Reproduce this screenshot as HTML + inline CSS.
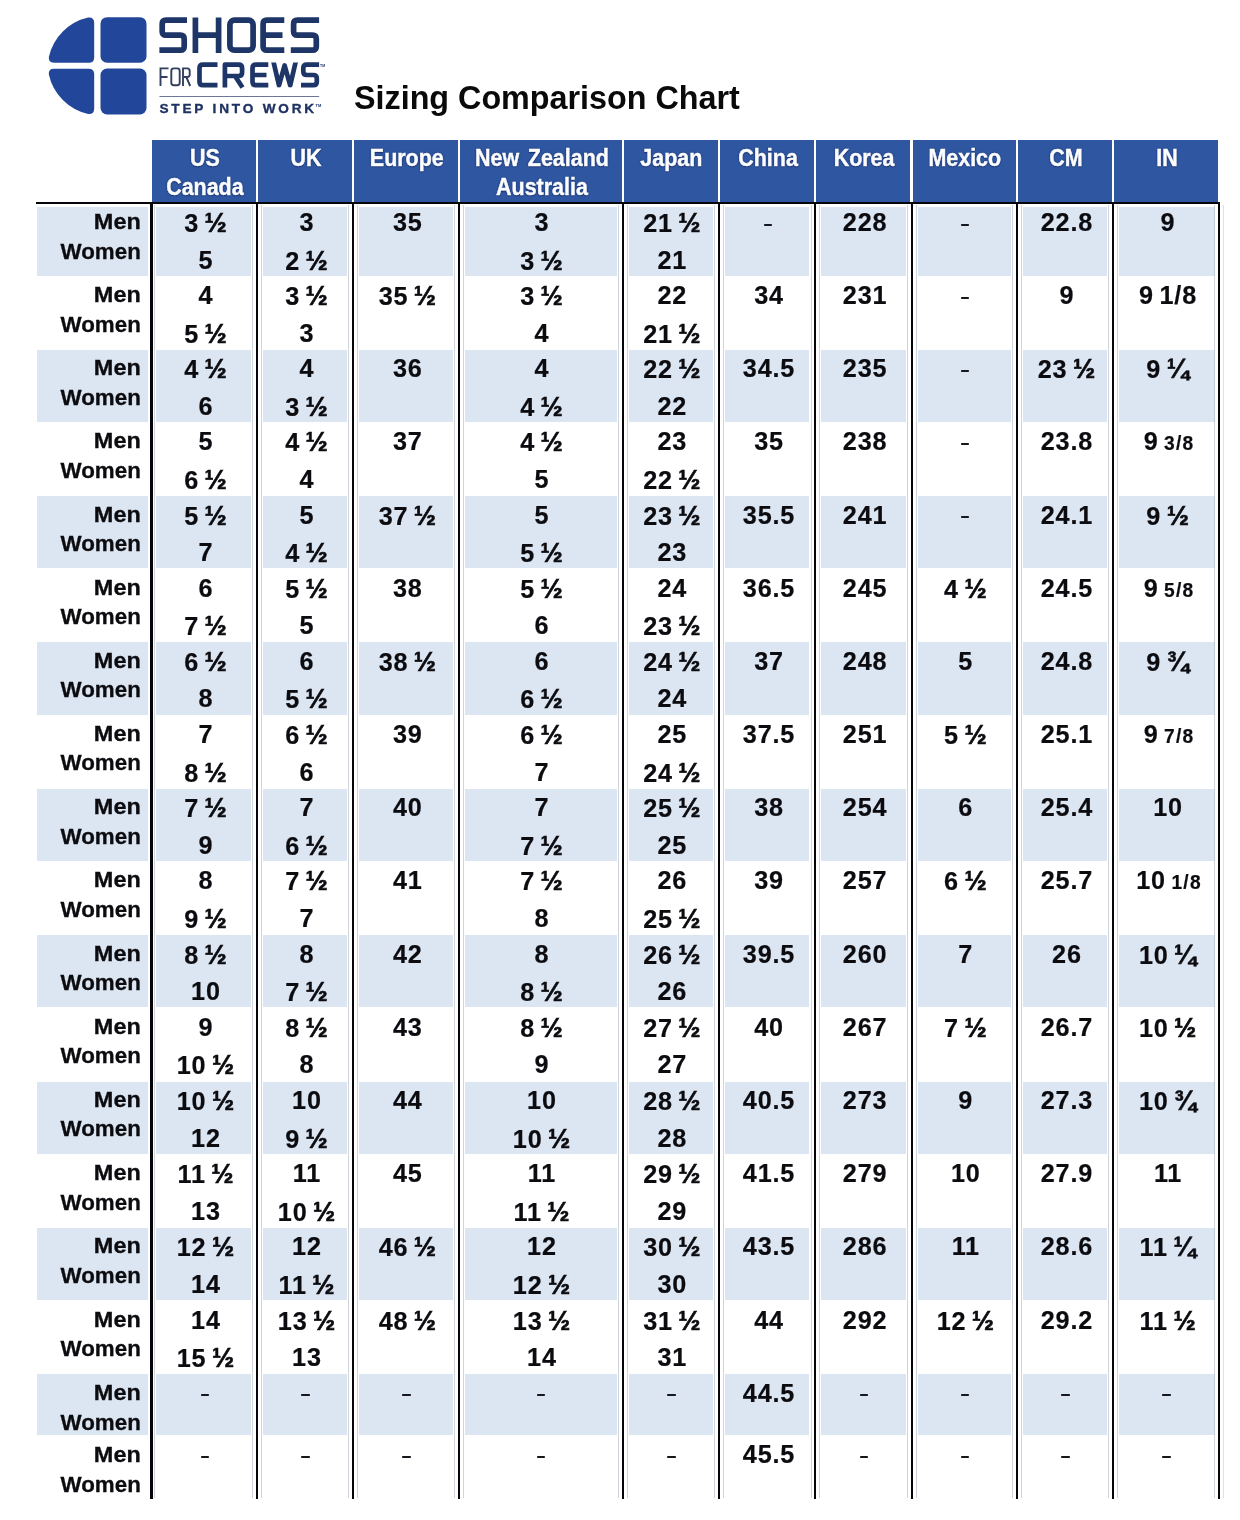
<!DOCTYPE html>
<html lang="en"><head><meta charset="utf-8"><title>Sizing Comparison Chart</title>
<style>
html,body{margin:0;padding:0;background:#fff}
body{width:1240px;height:1520px;position:relative;overflow:hidden;font-family:"Liberation Sans",sans-serif;font-weight:bold;color:#0c0c10}
.b{position:absolute;background:#dce6f2}
.vl{position:absolute;background:#05050a;width:2.2px}
.gl{position:absolute;background:#a9b2c0;width:1px;opacity:.55}
.h{position:absolute;background:#2f56a0;top:140.2px;height:61.7px}
.t{position:absolute;white-space:nowrap;line-height:1;text-align:center}
.v{word-spacing:-2.4px;margin-left:1.5px;letter-spacing:.85px;-webkit-text-stroke:.2px #0c0c10;font-size:26.0px;transform:scaleX(0.970);transform-origin:50% 50%}
.l{-webkit-text-stroke:.3px #0c0c10;font-size:22.8px;text-align:right;transform:scaleX(0.980);transform-origin:100% 50%;left:20px;width:120.8px}
.ht{margin-left:.8px;font-size:23.2px;color:#fbfdff;word-spacing:3px;-webkit-text-stroke:.45px #fbfdff;transform:scaleX(0.925);transform-origin:50% 50%;text-shadow:0 0 2px rgba(10,25,80,.9),0 1px 1px rgba(10,25,80,.6)}
.d{position:absolute;width:8.4px;height:2.4px;background:#16161c;border-radius:.8px}
.s{font-size:19.8px;letter-spacing:1.3px}
.m{transform:scaleX(1.03)}
.f{font-size:1.06em;-webkit-text-stroke:.55px #0c0c10}
#title{position:absolute;left:353.5px;top:81.8px;font-size:32.7px;line-height:1;white-space:nowrap;transform:scaleX(0.988);transform-origin:0 50%;color:#0a0a0a}
#w{position:absolute;left:0;top:0;width:1240px;height:1520px;will-change:transform;transform:translateZ(0)}
</style></head><body><div id="w">
<svg width="340" height="125" viewBox="0 0 340 125" style="position:absolute;left:0;top:0">
<defs><clipPath id="cw"><rect x="268" y="62.4" width="34" height="25.1"/></clipPath></defs>
<g fill="#22479a">
<path d="M48.9,56.8 A52,52 0 0 1 88.1,17.5 Q94.2,16.9 94.2,23 V57.2 Q94.2,62.7 88.7,62.7 H54 Q48,62.7 48.9,56.8 Z"/>
<rect x="100.5" y="17.2" width="46" height="45.5" rx="6.5"/>
<path d="M48.9,74.7 A52,52 0 0 0 88.1,114 Q94.2,114.6 94.2,108.5 V74.3 Q94.2,68.8 88.7,68.8 H54 Q48,68.8 48.9,74.7 Z"/>
<rect x="100.5" y="68.5" width="46" height="46" rx="6.5"/>
</g>
<g fill="none" stroke="#1e3568" stroke-width="5.7" stroke-linejoin="round">
<path d="M187,20.2 H166 Q162.2,20.2 162.2,24 V31.4 Q162.2,35.2 166,35.2 H180.4 Q184.2,35.2 184.2,39 V46.4 Q184.2,50.2 180.4,50.2 H159.4"/>
<path d="M195.4,17.4 V53 M218.6,17.4 V53 M195.4,35.2 H218.6"/>
<rect x="229.9" y="20.2" width="23.2" height="30" rx="4.5"/>
<path d="M284.3,20.2 H266.9 Q263.1,20.2 263.1,24 V46.4 Q263.1,50.2 266.9,50.2 H284.3 M263.1,35.2 H282.5"/>
<path d="M319.1,20.2 H297.4 Q293.6,20.2 293.6,24 V31.4 Q293.6,35.2 297.4,35.2 H312.5 Q316.3,35.2 316.3,39 V46.4 Q316.3,50.2 312.5,50.2 H290.8"/>
</g>
<g fill="none" stroke="#1e3568" stroke-width="4.7" stroke-linejoin="round">
<path d="M217.5,64.7 H203 Q199.5,64.7 199.5,68.2 V81.7 Q199.5,85.2 203,85.2 H217.5"/>
<path d="M224.9,87.5 V64.7 H238.6 Q242.1,64.7 242.1,68.2 V72.5 Q242.1,76 238.6,76 H224.9 M235,76 L242.5,87.5"/>
<path d="M268.3,64.7 H256 Q252.5,64.7 252.5,68.2 V81.7 Q252.5,85.2 256,85.2 H268.3 M252.5,75 H266.5"/>
<path d="M273.3,61 L279,85.4 L284.6,65.5 L290.2,85.4 L295.9,61" stroke-linejoin="round" clip-path="url(#cw)"/>
<path d="M319.1,64.7 H306.8 Q303.3,64.7 303.3,68.2 V71.5 Q303.3,75 306.8,75 H313.3 Q316.8,75 316.8,78.5 V81.7 Q316.8,85.2 313.3,85.2 H301"/>
</g>
<g fill="none" stroke="#333f5e" stroke-width="1.9">
<path d="M160.5,86 V68.4 H168.5 M160.5,77 H167.5"/>
<rect x="171.3" y="68.4" width="8.4" height="16.8" rx="2.5"/>
<path d="M183,86 V68.4 H187.2 Q189.7,68.4 189.7,71 V74.5 Q189.7,77 187.2,77 H183 M186.3,77 L190.2,86"/>
</g>
<rect x="159.4" y="96" width="159.7" height="1" fill="#6b7897"/>
<text x="159.4" y="113.2" font-family="Liberation Sans, sans-serif" font-weight="bold" font-size="13.6" fill="#1e3162" stroke="#1e3162" stroke-width=".35" textLength="154.8" lengthAdjust="spacing">STEP INTO WORK</text>
<text x="320" y="66.5" font-family="Liberation Sans, sans-serif" font-weight="bold" font-size="3.5" fill="#1f3772">TM</text>
<text x="315.5" y="107" font-family="Liberation Sans, sans-serif" font-weight="bold" font-size="4" fill="#1f3772">TM</text>
</svg>

<div id="title">Sizing Comparison Chart</div>
<div class="h" style="left:152.4px;width:103.8px"></div>
<div class="h" style="left:258.4px;width:93.8px"></div>
<div class="h" style="left:354.2px;width:103.5px"></div>
<div class="h" style="left:459.9px;width:161.8px"></div>
<div class="h" style="left:623.8px;width:94.5px"></div>
<div class="h" style="left:720.3px;width:94.0px"></div>
<div class="h" style="left:816.4px;width:94.1px"></div>
<div class="h" style="left:912.6px;width:103.5px"></div>
<div class="h" style="left:1018.2px;width:93.7px"></div>
<div class="h" style="left:1114.0px;width:103.5px"></div>
<div class="b" style="left:36.8px;top:206.5px;width:110.8px;height:69.0px"></div>
<div class="b" style="left:156.0px;top:206.5px;width:95.3px;height:69.0px"></div>
<div class="b" style="left:263.3px;top:206.5px;width:83.9px;height:69.0px"></div>
<div class="b" style="left:359.2px;top:206.5px;width:93.6px;height:69.0px"></div>
<div class="b" style="left:464.8px;top:206.5px;width:151.9px;height:69.0px"></div>
<div class="b" style="left:628.7px;top:206.5px;width:84.6px;height:69.0px"></div>
<div class="b" style="left:725.3px;top:206.5px;width:84.1px;height:69.0px"></div>
<div class="b" style="left:821.4px;top:206.5px;width:84.2px;height:69.0px"></div>
<div class="b" style="left:917.6px;top:206.5px;width:93.6px;height:69.0px"></div>
<div class="b" style="left:1023.2px;top:206.5px;width:83.8px;height:69.0px"></div>
<div class="b" style="left:1119.0px;top:206.5px;width:95.7px;height:69.0px"></div>
<div class="b" style="left:36.8px;top:349.7px;width:110.8px;height:72.2px"></div>
<div class="b" style="left:156.0px;top:349.7px;width:95.3px;height:72.2px"></div>
<div class="b" style="left:263.3px;top:349.7px;width:83.9px;height:72.2px"></div>
<div class="b" style="left:359.2px;top:349.7px;width:93.6px;height:72.2px"></div>
<div class="b" style="left:464.8px;top:349.7px;width:151.9px;height:72.2px"></div>
<div class="b" style="left:628.7px;top:349.7px;width:84.6px;height:72.2px"></div>
<div class="b" style="left:725.3px;top:349.7px;width:84.1px;height:72.2px"></div>
<div class="b" style="left:821.4px;top:349.7px;width:84.2px;height:72.2px"></div>
<div class="b" style="left:917.6px;top:349.7px;width:93.6px;height:72.2px"></div>
<div class="b" style="left:1023.2px;top:349.7px;width:83.8px;height:72.2px"></div>
<div class="b" style="left:1119.0px;top:349.7px;width:95.7px;height:72.2px"></div>
<div class="b" style="left:36.8px;top:496.1px;width:110.8px;height:72.2px"></div>
<div class="b" style="left:156.0px;top:496.1px;width:95.3px;height:72.2px"></div>
<div class="b" style="left:263.3px;top:496.1px;width:83.9px;height:72.2px"></div>
<div class="b" style="left:359.2px;top:496.1px;width:93.6px;height:72.2px"></div>
<div class="b" style="left:464.8px;top:496.1px;width:151.9px;height:72.2px"></div>
<div class="b" style="left:628.7px;top:496.1px;width:84.6px;height:72.2px"></div>
<div class="b" style="left:725.3px;top:496.1px;width:84.1px;height:72.2px"></div>
<div class="b" style="left:821.4px;top:496.1px;width:84.2px;height:72.2px"></div>
<div class="b" style="left:917.6px;top:496.1px;width:93.6px;height:72.2px"></div>
<div class="b" style="left:1023.2px;top:496.1px;width:83.8px;height:72.2px"></div>
<div class="b" style="left:1119.0px;top:496.1px;width:95.7px;height:72.2px"></div>
<div class="b" style="left:36.8px;top:642.4px;width:110.8px;height:72.2px"></div>
<div class="b" style="left:156.0px;top:642.4px;width:95.3px;height:72.2px"></div>
<div class="b" style="left:263.3px;top:642.4px;width:83.9px;height:72.2px"></div>
<div class="b" style="left:359.2px;top:642.4px;width:93.6px;height:72.2px"></div>
<div class="b" style="left:464.8px;top:642.4px;width:151.9px;height:72.2px"></div>
<div class="b" style="left:628.7px;top:642.4px;width:84.6px;height:72.2px"></div>
<div class="b" style="left:725.3px;top:642.4px;width:84.1px;height:72.2px"></div>
<div class="b" style="left:821.4px;top:642.4px;width:84.2px;height:72.2px"></div>
<div class="b" style="left:917.6px;top:642.4px;width:93.6px;height:72.2px"></div>
<div class="b" style="left:1023.2px;top:642.4px;width:83.8px;height:72.2px"></div>
<div class="b" style="left:1119.0px;top:642.4px;width:95.7px;height:72.2px"></div>
<div class="b" style="left:36.8px;top:788.8px;width:110.8px;height:72.2px"></div>
<div class="b" style="left:156.0px;top:788.8px;width:95.3px;height:72.2px"></div>
<div class="b" style="left:263.3px;top:788.8px;width:83.9px;height:72.2px"></div>
<div class="b" style="left:359.2px;top:788.8px;width:93.6px;height:72.2px"></div>
<div class="b" style="left:464.8px;top:788.8px;width:151.9px;height:72.2px"></div>
<div class="b" style="left:628.7px;top:788.8px;width:84.6px;height:72.2px"></div>
<div class="b" style="left:725.3px;top:788.8px;width:84.1px;height:72.2px"></div>
<div class="b" style="left:821.4px;top:788.8px;width:84.2px;height:72.2px"></div>
<div class="b" style="left:917.6px;top:788.8px;width:93.6px;height:72.2px"></div>
<div class="b" style="left:1023.2px;top:788.8px;width:83.8px;height:72.2px"></div>
<div class="b" style="left:1119.0px;top:788.8px;width:95.7px;height:72.2px"></div>
<div class="b" style="left:36.8px;top:935.2px;width:110.8px;height:72.2px"></div>
<div class="b" style="left:156.0px;top:935.2px;width:95.3px;height:72.2px"></div>
<div class="b" style="left:263.3px;top:935.2px;width:83.9px;height:72.2px"></div>
<div class="b" style="left:359.2px;top:935.2px;width:93.6px;height:72.2px"></div>
<div class="b" style="left:464.8px;top:935.2px;width:151.9px;height:72.2px"></div>
<div class="b" style="left:628.7px;top:935.2px;width:84.6px;height:72.2px"></div>
<div class="b" style="left:725.3px;top:935.2px;width:84.1px;height:72.2px"></div>
<div class="b" style="left:821.4px;top:935.2px;width:84.2px;height:72.2px"></div>
<div class="b" style="left:917.6px;top:935.2px;width:93.6px;height:72.2px"></div>
<div class="b" style="left:1023.2px;top:935.2px;width:83.8px;height:72.2px"></div>
<div class="b" style="left:1119.0px;top:935.2px;width:95.7px;height:72.2px"></div>
<div class="b" style="left:36.8px;top:1081.6px;width:110.8px;height:72.2px"></div>
<div class="b" style="left:156.0px;top:1081.6px;width:95.3px;height:72.2px"></div>
<div class="b" style="left:263.3px;top:1081.6px;width:83.9px;height:72.2px"></div>
<div class="b" style="left:359.2px;top:1081.6px;width:93.6px;height:72.2px"></div>
<div class="b" style="left:464.8px;top:1081.6px;width:151.9px;height:72.2px"></div>
<div class="b" style="left:628.7px;top:1081.6px;width:84.6px;height:72.2px"></div>
<div class="b" style="left:725.3px;top:1081.6px;width:84.1px;height:72.2px"></div>
<div class="b" style="left:821.4px;top:1081.6px;width:84.2px;height:72.2px"></div>
<div class="b" style="left:917.6px;top:1081.6px;width:93.6px;height:72.2px"></div>
<div class="b" style="left:1023.2px;top:1081.6px;width:83.8px;height:72.2px"></div>
<div class="b" style="left:1119.0px;top:1081.6px;width:95.7px;height:72.2px"></div>
<div class="b" style="left:36.8px;top:1228.0px;width:110.8px;height:72.2px"></div>
<div class="b" style="left:156.0px;top:1228.0px;width:95.3px;height:72.2px"></div>
<div class="b" style="left:263.3px;top:1228.0px;width:83.9px;height:72.2px"></div>
<div class="b" style="left:359.2px;top:1228.0px;width:93.6px;height:72.2px"></div>
<div class="b" style="left:464.8px;top:1228.0px;width:151.9px;height:72.2px"></div>
<div class="b" style="left:628.7px;top:1228.0px;width:84.6px;height:72.2px"></div>
<div class="b" style="left:725.3px;top:1228.0px;width:84.1px;height:72.2px"></div>
<div class="b" style="left:821.4px;top:1228.0px;width:84.2px;height:72.2px"></div>
<div class="b" style="left:917.6px;top:1228.0px;width:93.6px;height:72.2px"></div>
<div class="b" style="left:1023.2px;top:1228.0px;width:83.8px;height:72.2px"></div>
<div class="b" style="left:1119.0px;top:1228.0px;width:95.7px;height:72.2px"></div>
<div class="b" style="left:36.8px;top:1374.3px;width:110.8px;height:60.4px"></div>
<div class="b" style="left:156.0px;top:1374.3px;width:95.3px;height:60.4px"></div>
<div class="b" style="left:263.3px;top:1374.3px;width:83.9px;height:60.4px"></div>
<div class="b" style="left:359.2px;top:1374.3px;width:93.6px;height:60.4px"></div>
<div class="b" style="left:464.8px;top:1374.3px;width:151.9px;height:60.4px"></div>
<div class="b" style="left:628.7px;top:1374.3px;width:84.6px;height:60.4px"></div>
<div class="b" style="left:725.3px;top:1374.3px;width:84.1px;height:60.4px"></div>
<div class="b" style="left:821.4px;top:1374.3px;width:84.2px;height:60.4px"></div>
<div class="b" style="left:917.6px;top:1374.3px;width:93.6px;height:60.4px"></div>
<div class="b" style="left:1023.2px;top:1374.3px;width:83.8px;height:60.4px"></div>
<div class="b" style="left:1119.0px;top:1374.3px;width:95.7px;height:60.4px"></div>
<div style="position:absolute;left:35.6px;top:201.7px;width:1184.6px;height:2.1px;background:#05050a"></div>
<div class="vl" style="left:150.4px;top:202px;height:1296.5px"></div>
<div class="gl" style="left:154.1px;top:205px;height:1293px"></div>
<div class="vl" style="left:256.2px;top:202px;height:1296.5px"></div>
<div class="gl" style="left:252.4px;top:205px;height:1293px"></div>
<div class="gl" style="left:261.2px;top:205px;height:1293px"></div>
<div class="vl" style="left:352.1px;top:202px;height:1296.5px"></div>
<div class="gl" style="left:348.3px;top:205px;height:1293px"></div>
<div class="gl" style="left:357.1px;top:205px;height:1293px"></div>
<div class="vl" style="left:457.7px;top:202px;height:1296.5px"></div>
<div class="gl" style="left:453.9px;top:205px;height:1293px"></div>
<div class="gl" style="left:462.7px;top:205px;height:1293px"></div>
<div class="vl" style="left:621.6px;top:202px;height:1296.5px"></div>
<div class="gl" style="left:617.8px;top:205px;height:1293px"></div>
<div class="gl" style="left:626.6px;top:205px;height:1293px"></div>
<div class="vl" style="left:718.2px;top:202px;height:1296.5px"></div>
<div class="gl" style="left:714.4px;top:205px;height:1293px"></div>
<div class="gl" style="left:723.2px;top:205px;height:1293px"></div>
<div class="vl" style="left:814.3px;top:202px;height:1296.5px"></div>
<div class="gl" style="left:810.5px;top:205px;height:1293px"></div>
<div class="gl" style="left:819.3px;top:205px;height:1293px"></div>
<div class="vl" style="left:910.5px;top:202px;height:1296.5px"></div>
<div class="gl" style="left:906.7px;top:205px;height:1293px"></div>
<div class="gl" style="left:915.5px;top:205px;height:1293px"></div>
<div class="vl" style="left:1016.1px;top:202px;height:1296.5px"></div>
<div class="gl" style="left:1012.3px;top:205px;height:1293px"></div>
<div class="gl" style="left:1021.1px;top:205px;height:1293px"></div>
<div class="vl" style="left:1111.9px;top:202px;height:1296.5px"></div>
<div class="gl" style="left:1108.1px;top:205px;height:1293px"></div>
<div class="gl" style="left:1116.9px;top:205px;height:1293px"></div>
<div class="vl" style="left:1218.0px;top:202px;height:1296.5px"></div>
<div class="gl" style="left:1214.2px;top:205px;height:1293px"></div>
<div class="gl" style="left:1223px;top:205px;height:1293px;opacity:.4"></div>
<div class="t ht" style="left:151.5px;top:146.7px;width:105.8px">US</div>
<div class="t ht" style="left:151.5px;top:176.2px;width:105.8px">Canada</div>
<div class="t ht" style="left:257.3px;top:146.7px;width:95.9px">UK</div>
<div class="t ht" style="left:353.2px;top:146.7px;width:105.6px">Europe</div>
<div class="t ht" style="left:458.8px;top:146.7px;width:163.9px">New Zealand</div>
<div class="t ht" style="left:458.8px;top:176.2px;width:163.9px">Australia</div>
<div class="t ht" style="left:622.7px;top:146.7px;width:96.6px">Japan</div>
<div class="t ht" style="left:719.3px;top:146.7px;width:96.1px">China</div>
<div class="t ht" style="left:815.4px;top:146.7px;width:96.2px">Korea</div>
<div class="t ht" style="left:911.6px;top:146.7px;width:105.6px">Mexico</div>
<div class="t ht" style="left:1017.2px;top:146.7px;width:95.8px">CM</div>
<div class="t ht" style="left:1113.0px;top:146.7px;width:106.1px">IN</div>
<div class="t l m" style="top:210.2px">Men</div>
<div class="t l" style="top:239.6px">Women</div>
<div class="t v" style="left:151.5px;top:209.2px;width:105.8px">3 <span class="f">½</span></div>
<div class="t v" style="left:151.5px;top:246.7px;width:105.8px">5</div>
<div class="t v" style="left:257.3px;top:209.2px;width:95.9px">3</div>
<div class="t v" style="left:257.3px;top:246.7px;width:95.9px">2 <span class="f">½</span></div>
<div class="t v" style="left:353.2px;top:209.2px;width:105.6px">35</div>
<div class="t v" style="left:458.8px;top:209.2px;width:163.9px">3</div>
<div class="t v" style="left:458.8px;top:246.7px;width:163.9px">3 <span class="f">½</span></div>
<div class="t v" style="left:622.7px;top:209.2px;width:96.6px">21 <span class="f">½</span></div>
<div class="t v" style="left:622.7px;top:246.7px;width:96.6px">21</div>
<div class="d" style="left:763.5px;top:223.6px"></div>
<div class="t v" style="left:815.4px;top:209.2px;width:96.2px">228</div>
<div class="d" style="left:960.6px;top:223.6px"></div>
<div class="t v" style="left:1017.2px;top:209.2px;width:95.8px">22.8</div>
<div class="t v" style="left:1113.0px;top:209.2px;width:106.1px">9</div>
<div class="t l m" style="top:283.1px">Men</div>
<div class="t l" style="top:312.5px">Women</div>
<div class="t v" style="left:151.5px;top:282.1px;width:105.8px">4</div>
<div class="t v" style="left:151.5px;top:319.6px;width:105.8px">5 <span class="f">½</span></div>
<div class="t v" style="left:257.3px;top:282.1px;width:95.9px">3 <span class="f">½</span></div>
<div class="t v" style="left:257.3px;top:319.6px;width:95.9px">3</div>
<div class="t v" style="left:353.2px;top:282.1px;width:105.6px">35 <span class="f">½</span></div>
<div class="t v" style="left:458.8px;top:282.1px;width:163.9px">3 <span class="f">½</span></div>
<div class="t v" style="left:458.8px;top:319.6px;width:163.9px">4</div>
<div class="t v" style="left:622.7px;top:282.1px;width:96.6px">22</div>
<div class="t v" style="left:622.7px;top:319.6px;width:96.6px">21 <span class="f">½</span></div>
<div class="t v" style="left:719.3px;top:282.1px;width:96.1px">34</div>
<div class="t v" style="left:815.4px;top:282.1px;width:96.2px">231</div>
<div class="d" style="left:960.6px;top:296.5px"></div>
<div class="t v" style="left:1017.2px;top:282.1px;width:95.8px">9</div>
<div class="t v" style="left:1113.0px;top:282.1px;width:106.1px">9 1/8</div>
<div class="t l m" style="top:356.3px">Men</div>
<div class="t l" style="top:385.7px">Women</div>
<div class="t v" style="left:151.5px;top:355.3px;width:105.8px">4 <span class="f">½</span></div>
<div class="t v" style="left:151.5px;top:392.8px;width:105.8px">6</div>
<div class="t v" style="left:257.3px;top:355.3px;width:95.9px">4</div>
<div class="t v" style="left:257.3px;top:392.8px;width:95.9px">3 <span class="f">½</span></div>
<div class="t v" style="left:353.2px;top:355.3px;width:105.6px">36</div>
<div class="t v" style="left:458.8px;top:355.3px;width:163.9px">4</div>
<div class="t v" style="left:458.8px;top:392.8px;width:163.9px">4 <span class="f">½</span></div>
<div class="t v" style="left:622.7px;top:355.3px;width:96.6px">22 <span class="f">½</span></div>
<div class="t v" style="left:622.7px;top:392.8px;width:96.6px">22</div>
<div class="t v" style="left:719.3px;top:355.3px;width:96.1px">34.5</div>
<div class="t v" style="left:815.4px;top:355.3px;width:96.2px">235</div>
<div class="d" style="left:960.6px;top:369.7px"></div>
<div class="t v" style="left:1017.2px;top:355.3px;width:95.8px">23 <span class="f">½</span></div>
<div class="t v" style="left:1113.0px;top:355.3px;width:106.1px">9 <span class="f">¼</span></div>
<div class="t l m" style="top:429.3px">Men</div>
<div class="t l" style="top:458.7px">Women</div>
<div class="t v" style="left:151.5px;top:428.3px;width:105.8px">5</div>
<div class="t v" style="left:151.5px;top:465.8px;width:105.8px">6 <span class="f">½</span></div>
<div class="t v" style="left:257.3px;top:428.3px;width:95.9px">4 <span class="f">½</span></div>
<div class="t v" style="left:257.3px;top:465.8px;width:95.9px">4</div>
<div class="t v" style="left:353.2px;top:428.3px;width:105.6px">37</div>
<div class="t v" style="left:458.8px;top:428.3px;width:163.9px">4 <span class="f">½</span></div>
<div class="t v" style="left:458.8px;top:465.8px;width:163.9px">5</div>
<div class="t v" style="left:622.7px;top:428.3px;width:96.6px">23</div>
<div class="t v" style="left:622.7px;top:465.8px;width:96.6px">22 <span class="f">½</span></div>
<div class="t v" style="left:719.3px;top:428.3px;width:96.1px">35</div>
<div class="t v" style="left:815.4px;top:428.3px;width:96.2px">238</div>
<div class="d" style="left:960.6px;top:442.7px"></div>
<div class="t v" style="left:1017.2px;top:428.3px;width:95.8px">23.8</div>
<div class="t v" style="left:1114.5px;top:428.3px;width:106.1px">9 <span class="s">3/8</span></div>
<div class="t l m" style="top:502.5px">Men</div>
<div class="t l" style="top:531.9px">Women</div>
<div class="t v" style="left:151.5px;top:501.5px;width:105.8px">5 <span class="f">½</span></div>
<div class="t v" style="left:151.5px;top:539.0px;width:105.8px">7</div>
<div class="t v" style="left:257.3px;top:501.5px;width:95.9px">5</div>
<div class="t v" style="left:257.3px;top:539.0px;width:95.9px">4 <span class="f">½</span></div>
<div class="t v" style="left:353.2px;top:501.5px;width:105.6px">37 <span class="f">½</span></div>
<div class="t v" style="left:458.8px;top:501.5px;width:163.9px">5</div>
<div class="t v" style="left:458.8px;top:539.0px;width:163.9px">5 <span class="f">½</span></div>
<div class="t v" style="left:622.7px;top:501.5px;width:96.6px">23 <span class="f">½</span></div>
<div class="t v" style="left:622.7px;top:539.0px;width:96.6px">23</div>
<div class="t v" style="left:719.3px;top:501.5px;width:96.1px">35.5</div>
<div class="t v" style="left:815.4px;top:501.5px;width:96.2px">241</div>
<div class="d" style="left:960.6px;top:515.9px"></div>
<div class="t v" style="left:1017.2px;top:501.5px;width:95.8px">24.1</div>
<div class="t v" style="left:1113.0px;top:501.5px;width:106.1px">9 <span class="f">½</span></div>
<div class="t l m" style="top:575.6px">Men</div>
<div class="t l" style="top:605.0px">Women</div>
<div class="t v" style="left:151.5px;top:574.6px;width:105.8px">6</div>
<div class="t v" style="left:151.5px;top:612.1px;width:105.8px">7 <span class="f">½</span></div>
<div class="t v" style="left:257.3px;top:574.6px;width:95.9px">5 <span class="f">½</span></div>
<div class="t v" style="left:257.3px;top:612.1px;width:95.9px">5</div>
<div class="t v" style="left:353.2px;top:574.6px;width:105.6px">38</div>
<div class="t v" style="left:458.8px;top:574.6px;width:163.9px">5 <span class="f">½</span></div>
<div class="t v" style="left:458.8px;top:612.1px;width:163.9px">6</div>
<div class="t v" style="left:622.7px;top:574.6px;width:96.6px">24</div>
<div class="t v" style="left:622.7px;top:612.1px;width:96.6px">23 <span class="f">½</span></div>
<div class="t v" style="left:719.3px;top:574.6px;width:96.1px">36.5</div>
<div class="t v" style="left:815.4px;top:574.6px;width:96.2px">245</div>
<div class="t v" style="left:911.6px;top:574.6px;width:105.6px">4 <span class="f">½</span></div>
<div class="t v" style="left:1017.2px;top:574.6px;width:95.8px">24.5</div>
<div class="t v" style="left:1114.5px;top:574.6px;width:106.1px">9 <span class="s">5/8</span></div>
<div class="t l m" style="top:648.8px">Men</div>
<div class="t l" style="top:678.2px">Women</div>
<div class="t v" style="left:151.5px;top:647.8px;width:105.8px">6 <span class="f">½</span></div>
<div class="t v" style="left:151.5px;top:685.3px;width:105.8px">8</div>
<div class="t v" style="left:257.3px;top:647.8px;width:95.9px">6</div>
<div class="t v" style="left:257.3px;top:685.3px;width:95.9px">5 <span class="f">½</span></div>
<div class="t v" style="left:353.2px;top:647.8px;width:105.6px">38 <span class="f">½</span></div>
<div class="t v" style="left:458.8px;top:647.8px;width:163.9px">6</div>
<div class="t v" style="left:458.8px;top:685.3px;width:163.9px">6 <span class="f">½</span></div>
<div class="t v" style="left:622.7px;top:647.8px;width:96.6px">24 <span class="f">½</span></div>
<div class="t v" style="left:622.7px;top:685.3px;width:96.6px">24</div>
<div class="t v" style="left:719.3px;top:647.8px;width:96.1px">37</div>
<div class="t v" style="left:815.4px;top:647.8px;width:96.2px">248</div>
<div class="t v" style="left:911.6px;top:647.8px;width:105.6px">5</div>
<div class="t v" style="left:1017.2px;top:647.8px;width:95.8px">24.8</div>
<div class="t v" style="left:1113.0px;top:647.8px;width:106.1px">9 <span class="f">¾</span></div>
<div class="t l m" style="top:722.0px">Men</div>
<div class="t l" style="top:751.4px">Women</div>
<div class="t v" style="left:151.5px;top:721.0px;width:105.8px">7</div>
<div class="t v" style="left:151.5px;top:758.5px;width:105.8px">8 <span class="f">½</span></div>
<div class="t v" style="left:257.3px;top:721.0px;width:95.9px">6 <span class="f">½</span></div>
<div class="t v" style="left:257.3px;top:758.5px;width:95.9px">6</div>
<div class="t v" style="left:353.2px;top:721.0px;width:105.6px">39</div>
<div class="t v" style="left:458.8px;top:721.0px;width:163.9px">6 <span class="f">½</span></div>
<div class="t v" style="left:458.8px;top:758.5px;width:163.9px">7</div>
<div class="t v" style="left:622.7px;top:721.0px;width:96.6px">25</div>
<div class="t v" style="left:622.7px;top:758.5px;width:96.6px">24 <span class="f">½</span></div>
<div class="t v" style="left:719.3px;top:721.0px;width:96.1px">37.5</div>
<div class="t v" style="left:815.4px;top:721.0px;width:96.2px">251</div>
<div class="t v" style="left:911.6px;top:721.0px;width:105.6px">5 <span class="f">½</span></div>
<div class="t v" style="left:1017.2px;top:721.0px;width:95.8px">25.1</div>
<div class="t v" style="left:1114.5px;top:721.0px;width:106.1px">9 <span class="s">7/8</span></div>
<div class="t l m" style="top:795.2px">Men</div>
<div class="t l" style="top:824.6px">Women</div>
<div class="t v" style="left:151.5px;top:794.2px;width:105.8px">7 <span class="f">½</span></div>
<div class="t v" style="left:151.5px;top:831.7px;width:105.8px">9</div>
<div class="t v" style="left:257.3px;top:794.2px;width:95.9px">7</div>
<div class="t v" style="left:257.3px;top:831.7px;width:95.9px">6 <span class="f">½</span></div>
<div class="t v" style="left:353.2px;top:794.2px;width:105.6px">40</div>
<div class="t v" style="left:458.8px;top:794.2px;width:163.9px">7</div>
<div class="t v" style="left:458.8px;top:831.7px;width:163.9px">7 <span class="f">½</span></div>
<div class="t v" style="left:622.7px;top:794.2px;width:96.6px">25 <span class="f">½</span></div>
<div class="t v" style="left:622.7px;top:831.7px;width:96.6px">25</div>
<div class="t v" style="left:719.3px;top:794.2px;width:96.1px">38</div>
<div class="t v" style="left:815.4px;top:794.2px;width:96.2px">254</div>
<div class="t v" style="left:911.6px;top:794.2px;width:105.6px">6</div>
<div class="t v" style="left:1017.2px;top:794.2px;width:95.8px">25.4</div>
<div class="t v" style="left:1113.0px;top:794.2px;width:106.1px">10</div>
<div class="t l m" style="top:868.4px">Men</div>
<div class="t l" style="top:897.8px">Women</div>
<div class="t v" style="left:151.5px;top:867.4px;width:105.8px">8</div>
<div class="t v" style="left:151.5px;top:904.9px;width:105.8px">9 <span class="f">½</span></div>
<div class="t v" style="left:257.3px;top:867.4px;width:95.9px">7 <span class="f">½</span></div>
<div class="t v" style="left:257.3px;top:904.9px;width:95.9px">7</div>
<div class="t v" style="left:353.2px;top:867.4px;width:105.6px">41</div>
<div class="t v" style="left:458.8px;top:867.4px;width:163.9px">7 <span class="f">½</span></div>
<div class="t v" style="left:458.8px;top:904.9px;width:163.9px">8</div>
<div class="t v" style="left:622.7px;top:867.4px;width:96.6px">26</div>
<div class="t v" style="left:622.7px;top:904.9px;width:96.6px">25 <span class="f">½</span></div>
<div class="t v" style="left:719.3px;top:867.4px;width:96.1px">39</div>
<div class="t v" style="left:815.4px;top:867.4px;width:96.2px">257</div>
<div class="t v" style="left:911.6px;top:867.4px;width:105.6px">6 <span class="f">½</span></div>
<div class="t v" style="left:1017.2px;top:867.4px;width:95.8px">25.7</div>
<div class="t v" style="left:1114.5px;top:867.4px;width:106.1px">10 <span class="s">1/8</span></div>
<div class="t l m" style="top:941.6px">Men</div>
<div class="t l" style="top:971.0px">Women</div>
<div class="t v" style="left:151.5px;top:940.6px;width:105.8px">8 <span class="f">½</span></div>
<div class="t v" style="left:151.5px;top:978.1px;width:105.8px">10</div>
<div class="t v" style="left:257.3px;top:940.6px;width:95.9px">8</div>
<div class="t v" style="left:257.3px;top:978.1px;width:95.9px">7 <span class="f">½</span></div>
<div class="t v" style="left:353.2px;top:940.6px;width:105.6px">42</div>
<div class="t v" style="left:458.8px;top:940.6px;width:163.9px">8</div>
<div class="t v" style="left:458.8px;top:978.1px;width:163.9px">8 <span class="f">½</span></div>
<div class="t v" style="left:622.7px;top:940.6px;width:96.6px">26 <span class="f">½</span></div>
<div class="t v" style="left:622.7px;top:978.1px;width:96.6px">26</div>
<div class="t v" style="left:719.3px;top:940.6px;width:96.1px">39.5</div>
<div class="t v" style="left:815.4px;top:940.6px;width:96.2px">260</div>
<div class="t v" style="left:911.6px;top:940.6px;width:105.6px">7</div>
<div class="t v" style="left:1017.2px;top:940.6px;width:95.8px">26</div>
<div class="t v" style="left:1113.0px;top:940.6px;width:106.1px">10 <span class="f">¼</span></div>
<div class="t l m" style="top:1014.8px">Men</div>
<div class="t l" style="top:1044.2px">Women</div>
<div class="t v" style="left:151.5px;top:1013.8px;width:105.8px">9</div>
<div class="t v" style="left:151.5px;top:1051.3px;width:105.8px">10 <span class="f">½</span></div>
<div class="t v" style="left:257.3px;top:1013.8px;width:95.9px">8 <span class="f">½</span></div>
<div class="t v" style="left:257.3px;top:1051.3px;width:95.9px">8</div>
<div class="t v" style="left:353.2px;top:1013.8px;width:105.6px">43</div>
<div class="t v" style="left:458.8px;top:1013.8px;width:163.9px">8 <span class="f">½</span></div>
<div class="t v" style="left:458.8px;top:1051.3px;width:163.9px">9</div>
<div class="t v" style="left:622.7px;top:1013.8px;width:96.6px">27 <span class="f">½</span></div>
<div class="t v" style="left:622.7px;top:1051.3px;width:96.6px">27</div>
<div class="t v" style="left:719.3px;top:1013.8px;width:96.1px">40</div>
<div class="t v" style="left:815.4px;top:1013.8px;width:96.2px">267</div>
<div class="t v" style="left:911.6px;top:1013.8px;width:105.6px">7 <span class="f">½</span></div>
<div class="t v" style="left:1017.2px;top:1013.8px;width:95.8px">26.7</div>
<div class="t v" style="left:1113.0px;top:1013.8px;width:106.1px">10 <span class="f">½</span></div>
<div class="t l m" style="top:1088.0px">Men</div>
<div class="t l" style="top:1117.4px">Women</div>
<div class="t v" style="left:151.5px;top:1087.0px;width:105.8px">10 <span class="f">½</span></div>
<div class="t v" style="left:151.5px;top:1124.5px;width:105.8px">12</div>
<div class="t v" style="left:257.3px;top:1087.0px;width:95.9px">10</div>
<div class="t v" style="left:257.3px;top:1124.5px;width:95.9px">9 <span class="f">½</span></div>
<div class="t v" style="left:353.2px;top:1087.0px;width:105.6px">44</div>
<div class="t v" style="left:458.8px;top:1087.0px;width:163.9px">10</div>
<div class="t v" style="left:458.8px;top:1124.5px;width:163.9px">10 <span class="f">½</span></div>
<div class="t v" style="left:622.7px;top:1087.0px;width:96.6px">28 <span class="f">½</span></div>
<div class="t v" style="left:622.7px;top:1124.5px;width:96.6px">28</div>
<div class="t v" style="left:719.3px;top:1087.0px;width:96.1px">40.5</div>
<div class="t v" style="left:815.4px;top:1087.0px;width:96.2px">273</div>
<div class="t v" style="left:911.6px;top:1087.0px;width:105.6px">9</div>
<div class="t v" style="left:1017.2px;top:1087.0px;width:95.8px">27.3</div>
<div class="t v" style="left:1113.0px;top:1087.0px;width:106.1px">10 <span class="f">¾</span></div>
<div class="t l m" style="top:1161.2px">Men</div>
<div class="t l" style="top:1190.6px">Women</div>
<div class="t v" style="left:151.5px;top:1160.2px;width:105.8px">11 <span class="f">½</span></div>
<div class="t v" style="left:151.5px;top:1197.7px;width:105.8px">13</div>
<div class="t v" style="left:257.3px;top:1160.2px;width:95.9px">11</div>
<div class="t v" style="left:257.3px;top:1197.7px;width:95.9px">10 <span class="f">½</span></div>
<div class="t v" style="left:353.2px;top:1160.2px;width:105.6px">45</div>
<div class="t v" style="left:458.8px;top:1160.2px;width:163.9px">11</div>
<div class="t v" style="left:458.8px;top:1197.7px;width:163.9px">11 <span class="f">½</span></div>
<div class="t v" style="left:622.7px;top:1160.2px;width:96.6px">29 <span class="f">½</span></div>
<div class="t v" style="left:622.7px;top:1197.7px;width:96.6px">29</div>
<div class="t v" style="left:719.3px;top:1160.2px;width:96.1px">41.5</div>
<div class="t v" style="left:815.4px;top:1160.2px;width:96.2px">279</div>
<div class="t v" style="left:911.6px;top:1160.2px;width:105.6px">10</div>
<div class="t v" style="left:1017.2px;top:1160.2px;width:95.8px">27.9</div>
<div class="t v" style="left:1113.0px;top:1160.2px;width:106.1px">11</div>
<div class="t l m" style="top:1234.4px">Men</div>
<div class="t l" style="top:1263.8px">Women</div>
<div class="t v" style="left:151.5px;top:1233.4px;width:105.8px">12 <span class="f">½</span></div>
<div class="t v" style="left:151.5px;top:1270.9px;width:105.8px">14</div>
<div class="t v" style="left:257.3px;top:1233.4px;width:95.9px">12</div>
<div class="t v" style="left:257.3px;top:1270.9px;width:95.9px">11 <span class="f">½</span></div>
<div class="t v" style="left:353.2px;top:1233.4px;width:105.6px">46 <span class="f">½</span></div>
<div class="t v" style="left:458.8px;top:1233.4px;width:163.9px">12</div>
<div class="t v" style="left:458.8px;top:1270.9px;width:163.9px">12 <span class="f">½</span></div>
<div class="t v" style="left:622.7px;top:1233.4px;width:96.6px">30 <span class="f">½</span></div>
<div class="t v" style="left:622.7px;top:1270.9px;width:96.6px">30</div>
<div class="t v" style="left:719.3px;top:1233.4px;width:96.1px">43.5</div>
<div class="t v" style="left:815.4px;top:1233.4px;width:96.2px">286</div>
<div class="t v" style="left:911.6px;top:1233.4px;width:105.6px">11</div>
<div class="t v" style="left:1017.2px;top:1233.4px;width:95.8px">28.6</div>
<div class="t v" style="left:1113.0px;top:1233.4px;width:106.1px">11 <span class="f">¼</span></div>
<div class="t l m" style="top:1307.5px">Men</div>
<div class="t l" style="top:1336.9px">Women</div>
<div class="t v" style="left:151.5px;top:1306.5px;width:105.8px">14</div>
<div class="t v" style="left:151.5px;top:1344.0px;width:105.8px">15 <span class="f">½</span></div>
<div class="t v" style="left:257.3px;top:1306.5px;width:95.9px">13 <span class="f">½</span></div>
<div class="t v" style="left:257.3px;top:1344.0px;width:95.9px">13</div>
<div class="t v" style="left:353.2px;top:1306.5px;width:105.6px">48 <span class="f">½</span></div>
<div class="t v" style="left:458.8px;top:1306.5px;width:163.9px">13 <span class="f">½</span></div>
<div class="t v" style="left:458.8px;top:1344.0px;width:163.9px">14</div>
<div class="t v" style="left:622.7px;top:1306.5px;width:96.6px">31 <span class="f">½</span></div>
<div class="t v" style="left:622.7px;top:1344.0px;width:96.6px">31</div>
<div class="t v" style="left:719.3px;top:1306.5px;width:96.1px">44</div>
<div class="t v" style="left:815.4px;top:1306.5px;width:96.2px">292</div>
<div class="t v" style="left:911.6px;top:1306.5px;width:105.6px">12 <span class="f">½</span></div>
<div class="t v" style="left:1017.2px;top:1306.5px;width:95.8px">29.2</div>
<div class="t v" style="left:1113.0px;top:1306.5px;width:106.1px">11 <span class="f">½</span></div>
<div class="t l m" style="top:1381.1px">Men</div>
<div class="t l" style="top:1410.8px">Women</div>
<div class="d" style="left:200.6px;top:1393.9px"></div>
<div class="d" style="left:301.4px;top:1393.9px"></div>
<div class="d" style="left:402.2px;top:1393.9px"></div>
<div class="d" style="left:537.0px;top:1393.9px"></div>
<div class="d" style="left:667.2px;top:1393.9px"></div>
<div class="t v" style="left:719.3px;top:1379.5px;width:96.1px">44.5</div>
<div class="d" style="left:859.7px;top:1393.9px"></div>
<div class="d" style="left:960.6px;top:1393.9px"></div>
<div class="d" style="left:1061.3px;top:1393.9px"></div>
<div class="d" style="left:1162.2px;top:1393.9px"></div>
<div class="t l m" style="top:1442.8px">Men</div>
<div class="t l" style="top:1473.2px">Women</div>
<div class="d" style="left:200.6px;top:1455.5px"></div>
<div class="d" style="left:301.4px;top:1455.5px"></div>
<div class="d" style="left:402.2px;top:1455.5px"></div>
<div class="d" style="left:537.0px;top:1455.5px"></div>
<div class="d" style="left:667.2px;top:1455.5px"></div>
<div class="t v" style="left:719.3px;top:1441.1px;width:96.1px">45.5</div>
<div class="d" style="left:859.7px;top:1455.5px"></div>
<div class="d" style="left:960.6px;top:1455.5px"></div>
<div class="d" style="left:1061.3px;top:1455.5px"></div>
<div class="d" style="left:1162.2px;top:1455.5px"></div>
</div></body></html>
